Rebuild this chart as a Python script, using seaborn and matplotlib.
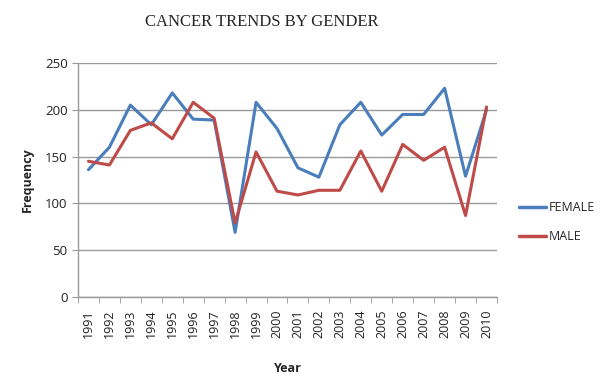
import numpy as np
import pandas as pd
import matplotlib.pyplot as plt
import seaborn as sns

# data
years = [str(y) for y in range(1991, 2011)]
female = [136, 160, 205, 184, 218, 190, 189, 69, 208, 180,
          138, 128, 184, 208, 173, 195, 195, 223, 129, 200]
male = [145, 141, 178, 186, 169, 208, 191, 79, 155, 113,
        109, 114, 114, 156, 113, 163, 146, 160, 87, 203]

df = pd.DataFrame({
    'pos': list(range(len(years))) * 2,
    'Frequency': female + male,
    'Gender': ['FEMALE'] * len(years) + ['MALE'] * len(years),
})

sns.set_style('white')
plt.rcParams['font.family'] = ['Open Sans', 'DejaVu Sans']

fig = plt.figure(figsize=(6.06, 3.9), dpi=100)
ax = fig.add_axes([0.1287, 0.2385, 0.6914, 0.6])

palette = {'FEMALE': '#4A7EBB', 'MALE': '#BE4B48'}
sns.lineplot(data=df, x='pos', y='Frequency', hue='Gender', palette=palette,
             linewidth=2.2, ax=ax)

ax.set_xlim(-0.5, len(years) - 0.5)
ax.set_ylim(0, 250)
ax.set_yticks(range(0, 251, 50))
ax.yaxis.grid(True, color='#999999', linewidth=1)
ax.set_axisbelow(True)

ax.set_xticks(range(len(years)))
ax.set_xticklabels(years, rotation=90, fontsize=9, color='#222222')
ax.set_xticks(np.arange(-0.5, len(years), 1), minor=True)
ax.tick_params(axis='x', which='major', length=0, pad=9)
ax.tick_params(axis='x', which='minor', length=4, color='#999999', direction='out')
ax.tick_params(axis='y', length=4, color='#999999', direction='out', labelsize=9.5,
               labelcolor='#222222')
ax.xaxis.set_ticks_position('bottom')
ax.yaxis.set_ticks_position('left')

for s in ['top', 'right']:
    ax.spines[s].set_visible(False)
for s in ['left', 'bottom']:
    ax.spines[s].set_color('#999999')
    ax.spines[s].set_linewidth(1)

ax.set_xlabel('Year', fontsize=9, fontweight='bold', labelpad=17)
ax.set_ylabel('Frequency', fontsize=9, fontweight='bold', labelpad=8)

leg = ax.legend(loc='center left', bbox_to_anchor=(1.025, 0.32), frameon=False,
                fontsize=9, handlelength=2.2, labelspacing=1.3, handletextpad=0.2)
for line in leg.get_lines():
    line.set_linewidth(2.5)

fig.text(0.432, 0.944, 'CANCER TRENDS BY GENDER', ha='center', va='center',
         fontsize=12, family='Liberation Serif')

fig.savefig('out.png', dpi=100)
